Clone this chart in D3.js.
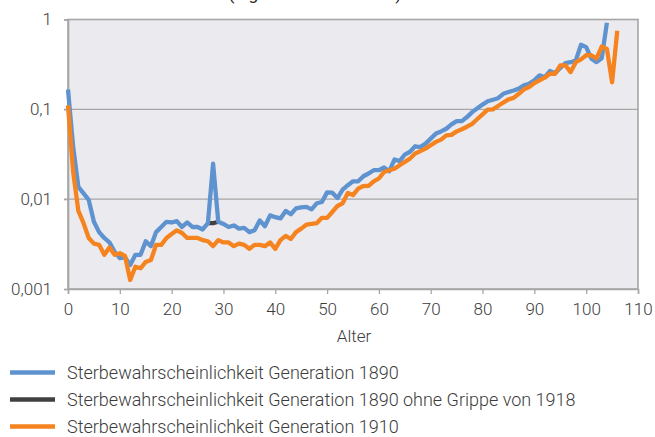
<!DOCTYPE html>
<html>
<head>
<meta charset="utf-8">
<script src="https://cdn.jsdelivr.net/npm/d3@7"></script>
<style>
  html, body { margin: 0; padding: 0; background: #fff; }
  svg { display: block; }
  text { font-family: Roboto, "Noto Sans", sans-serif; }
</style>
</head>
<body>
<svg id="chart" width="655" height="437"></svg>
<script>
const titleText = "Sterbewahrscheinlichkeiten (logarithmische Skala)";
const xTicks = [0, 10, 20, 30, 40, 50, 60, 70, 80, 90, 100, 110];
const yTicks = [0.001, 0.01, 0.1, 1];
const yTickLabels = ["0,001", "0,01", "0,1", "1"];
const xTitle = "Alter";
const seriesNames = [
  "Sterbewahrscheinlichkeit Generation 1890",
  "Sterbewahrscheinlichkeit Generation 1890 ohne Grippe von 1918",
  "Sterbewahrscheinlichkeit Generation 1910"
];
// Generation 1890, ages 0..104
const gen1890 = [
  0.166, 0.038, 0.0137, 0.0116, 0.0098, 0.0056, 0.0043, 0.0037, 0.0033, 0.0026,
  0.0022, 0.00225, 0.00185, 0.0024, 0.0024, 0.0034, 0.0030, 0.0043, 0.0049, 0.0056,
  0.0055, 0.0057, 0.0049, 0.0055, 0.0049, 0.0049, 0.0046, 0.0054, 0.0249, 0.0056,
  0.0053, 0.0049, 0.0051, 0.0047, 0.0048, 0.0043, 0.0045, 0.0058, 0.0050, 0.0066,
  0.0063, 0.0061, 0.0074, 0.0068, 0.0079, 0.0081, 0.0082, 0.0077, 0.0090, 0.0093,
  0.0119, 0.0118, 0.0103, 0.0128, 0.0143, 0.0158, 0.0158, 0.0180, 0.0193, 0.0210,
  0.0210, 0.0225, 0.0205, 0.0276, 0.0265, 0.0314, 0.0337, 0.0388, 0.0380, 0.0415,
  0.0472, 0.0537, 0.0568, 0.0608, 0.068, 0.074, 0.074, 0.082, 0.093, 0.103,
  0.113, 0.123, 0.128, 0.133, 0.149, 0.156, 0.162, 0.170, 0.185, 0.193,
  0.210, 0.239, 0.228, 0.267, 0.253, 0.288, 0.327, 0.335, 0.350, 0.523,
  0.493, 0.366, 0.335, 0.371, 0.92
];
// Generation 1890 without the 1918 flu, ages 27..29
const gen1890noFluAges = [27, 28, 29];
const gen1890noFlu = [0.0054, 0.0054, 0.0056];
// Generation 1910, ages 0..106
const gen1910 = [
  0.111, 0.020, 0.0074, 0.0054, 0.0037, 0.0032, 0.0031, 0.0024, 0.0029, 0.0024,
  0.0025, 0.00233, 0.00126, 0.00177, 0.0017, 0.0020, 0.0021, 0.0031, 0.0031, 0.0037,
  0.0041, 0.0045, 0.0042, 0.0037, 0.0037, 0.0037, 0.0035, 0.0034, 0.0030, 0.0035,
  0.0033, 0.0033, 0.0030, 0.0032, 0.0031, 0.0028, 0.0031, 0.0031, 0.0030, 0.0033,
  0.0028, 0.0035, 0.0039, 0.0036, 0.0043, 0.0047, 0.0052, 0.0053, 0.0054, 0.0062,
  0.0062, 0.0072, 0.0084, 0.0090, 0.0117, 0.0111, 0.0131, 0.0140, 0.0141, 0.0158,
  0.0170, 0.0201, 0.0210, 0.0218, 0.0239, 0.0260, 0.0283, 0.0322, 0.0343, 0.0365,
  0.0398, 0.0434, 0.0460, 0.0514, 0.0520, 0.0568, 0.060, 0.064, 0.069, 0.078,
  0.088, 0.099, 0.100, 0.109, 0.119, 0.129, 0.134, 0.149, 0.167, 0.177,
  0.196, 0.210, 0.225, 0.249, 0.249, 0.308, 0.308, 0.260, 0.335, 0.360,
  0.40, 0.40, 0.37, 0.50, 0.47, 0.20, 0.75
];

const colors = ["#5f93d0", "#404040", "#f5831f"];

const svg = d3.select("#chart");
const pLeft = 68, pRight = 638, pTop = 19.5, pBottom = 289;

const x = d3.scaleLinear().domain([0, 110]).range([pLeft, pRight]);
const y = d3.scaleLog().domain([0.001, 1]).range([pBottom, pTop]);

// title (cut off at the top, as in the reference)
svg.append("text")
  .attr("x", 13).attr("y", 0)
  .attr("font-size", 17.3).attr("fill", "#222")
  .text(titleText);

// plot background
svg.append("rect")
  .attr("x", pLeft).attr("y", pTop)
  .attr("width", pRight - pLeft).attr("height", pBottom - pTop)
  .attr("fill", "#ebebef");

// gridlines
svg.append("g").selectAll("line")
  .data(yTicks.slice(1, 3))
  .join("line")
  .attr("x1", pLeft - 4).attr("x2", pRight)
  .attr("y1", d => y(d)).attr("y2", d => y(d))
  .attr("stroke", "#a6a6a6").attr("stroke-width", 1.3);

// border
svg.append("rect")
  .attr("x", pLeft).attr("y", pTop)
  .attr("width", pRight - pLeft).attr("height", pBottom - pTop)
  .attr("fill", "none").attr("stroke", "#a6a6a6").attr("stroke-width", 1.6);

// y axis
const yAxis = d3.axisLeft(y)
  .tickValues(yTicks)
  .tickFormat((d, i) => yTickLabels[i])
  .tickSize(4).tickPadding(12);
const gy = svg.append("g").attr("transform", `translate(${pLeft},0)`).call(yAxis);
gy.select(".domain").attr("stroke", "#a6a6a6").attr("stroke-width", 1.6);
gy.selectAll(".tick line").attr("stroke", "#a6a6a6").attr("stroke-width", 1.3);
gy.selectAll(".tick text").attr("font-size", 17).attr("font-weight", 300)
  .attr("fill", "#3c3c3c").attr("font-family", "Roboto");

// x axis
const xAxis = d3.axisBottom(x).tickValues(xTicks).tickSize(5).tickPadding(9);
const gx = svg.append("g").attr("transform", `translate(0,${pBottom})`).call(xAxis);
gx.select(".domain").attr("stroke", "#a6a6a6").attr("stroke-width", 1.6);
gx.selectAll(".tick line").attr("stroke", "#a6a6a6").attr("stroke-width", 1.3);
gx.selectAll(".tick text").attr("font-size", 17).attr("font-weight", 300)
  .attr("fill", "#3c3c3c").attr("font-family", "Roboto");

svg.append("text")
  .attr("x", (pLeft + pRight) / 2 + 1).attr("y", 342)
  .attr("text-anchor", "middle")
  .attr("font-size", 17).attr("font-weight", 300).attr("fill", "#3c3c3c")
  .text(xTitle);

const line = d3.line().x(d => x(d[0])).y(d => y(d[1]));

const s1890 = gen1890.map((v, i) => [i, v]);
const sNoFlu = gen1890noFlu.map((v, i) => [gen1890noFluAges[i], v]);
const s1910 = gen1910.map((v, i) => [i, v]);

const plot = svg.append("g");
[[sNoFlu, colors[1]], [s1890, colors[0]], [s1910, colors[2]]].forEach(([data, c]) => {
  plot.append("path")
    .datum(data)
    .attr("d", line)
    .attr("fill", "none")
    .attr("stroke", c)
    .attr("stroke-width", 4.3)
    .attr("stroke-linejoin", "round")
    .attr("stroke-linecap", "butt");
});

// legend
const legendY = [372.5, 399.5, 426.5];
const lg = svg.append("g");
seriesNames.forEach((name, i) => {
  lg.append("line")
    .attr("x1", 10).attr("x2", 55)
    .attr("y1", legendY[i]).attr("y2", legendY[i])
    .attr("stroke", colors[i]).attr("stroke-width", 4.5);
  lg.append("text")
    .attr("x", 67).attr("y", legendY[i] + 6.5)
    .attr("font-size", 18).attr("font-weight", 300).attr("fill", "#3c3c3c")
    .text(name);
});
</script>
</body>
</html>
